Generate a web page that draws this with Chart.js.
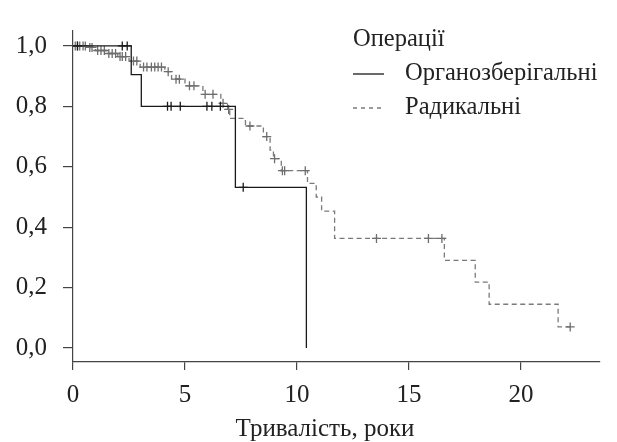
<!DOCTYPE html>
<html>
<head>
<meta charset="utf-8">
<script src="https://cdn.jsdelivr.net/npm/chart.js@4"></script>
<style>
  body { margin: 0; background: #fff; }
</style>
</head>
<body>
<canvas id="kmChart" width="617" height="442"></canvas>
<script>
// Kaplan-Meier curves, values
const xTicks = [0, 5, 10, 15, 20];
const yTicks = [0, 0.2, 0.4, 0.6, 0.8, 1.0];
const legendTitle = "Операції";
const xTitle = "Тривалість, роки";

// Органозберігальні (solid)
const orgTime = [0, 2.6, 3.05, 7.25, 10.42];
const orgSurv = [1.0, 0.905, 0.80, 0.532, 0.0];
const orgCensTime = [0.2, 2.2, 2.42, 4.22, 4.38, 4.79, 5.98, 6.2, 6.58, 7.6];
const orgCensSurv = [1.0, 1.0, 1.0, 0.8, 0.8, 0.8, 0.8, 0.8, 0.8, 0.532];

// Радикальні (dashed)
const radTime = [0, 0.6, 1.0, 1.5, 2.0, 2.5, 3.0, 4.1, 4.4, 5.0, 5.8, 6.6, 6.9, 7.0, 7.7, 8.5, 8.8, 8.95, 9.3, 10.47, 10.86, 11.1, 11.68, 16.58, 17.96, 18.58, 21.66, 22.2];
const radSurv = [1.0, 0.995, 0.985, 0.975, 0.965, 0.95, 0.93, 0.915, 0.89, 0.868, 0.84, 0.81, 0.79, 0.76, 0.735, 0.70, 0.655, 0.627, 0.587, 0.545, 0.50, 0.453, 0.363, 0.29, 0.218, 0.145, 0.07, 0.07];
const radCensTime = [0.1, 0.2, 0.3, 0.45, 0.55, 0.75, 0.85, 1.1, 1.25, 1.4, 1.6, 1.75, 1.9, 2.1, 2.2, 2.35, 2.7, 2.85, 3.15, 3.3, 3.5, 3.65, 3.8, 3.95, 4.25, 4.6, 4.75, 5.2, 5.4, 5.9, 6.25, 6.7, 6.95, 7.9, 8.65, 9.0, 9.35, 9.45, 10.37, 13.55, 15.87, 16.47, 22.2];
const radCensSurv = [1.0, 1.0, 1.0, 1.0, 1.0, 0.995, 0.995, 0.985, 0.985, 0.985, 0.975, 0.975, 0.975, 0.965, 0.965, 0.965, 0.95, 0.95, 0.93, 0.93, 0.93, 0.93, 0.93, 0.93, 0.915, 0.89, 0.89, 0.868, 0.868, 0.84, 0.84, 0.81, 0.79, 0.735, 0.70, 0.627, 0.587, 0.587, 0.587, 0.363, 0.363, 0.363, 0.07];

const FONT = '"Liberation Serif", "DejaVu Serif", serif';
const AXIS = "#444";

function toPoints(xs, ys) {
  return xs.map((x, i) => ({ x: x, y: ys[i] }));
}

// Legend inside the plot (top right) and the x axis title
const textPlugin = {
  id: "kmText",
  afterDraw(chart) {
    const ctx = chart.ctx;
    ctx.save();
    ctx.fillStyle = "#222";
    ctx.font = "25px " + FONT;
    ctx.textAlign = "center";
    ctx.textBaseline = "alphabetic";
    ctx.fillText(xTitle, 325, 436);

    ctx.font = "24.5px " + FONT;
    ctx.textAlign = "left";
    ctx.textBaseline = "middle";
    ctx.fillText(legendTitle, 353, 40);
    chart.data.datasets
      .filter((d) => d.inLegend)
      .forEach((d, i) => {
        const y = 74 + i * 34;
        ctx.strokeStyle = d.borderColor;
        ctx.lineWidth = d.borderWidth;
        ctx.setLineDash(d.legendDash || []);
        ctx.beginPath();
        ctx.moveTo(353, y);
        ctx.lineTo(384, y);
        ctx.stroke();
        ctx.setLineDash([]);
        ctx.fillText(d.label, 405, y);
      });
    ctx.restore();
  },
};

const ctx = document.getElementById("kmChart");
const kmChart = new Chart(ctx, {
  type: "scatter",
  data: {
    datasets: [
      {
        label: "Органозберігальні",
        inLegend: true,
        data: toPoints(orgTime, orgSurv),
        showLine: true,
        stepped: "before",
        borderColor: "#1a1a1a",
        borderWidth: 1.3,
        pointRadius: 0,
        order: 0,
      },
      {
        label: "Радикальні",
        inLegend: true,
        data: toPoints(radTime, radSurv),
        showLine: true,
        stepped: "before",
        borderColor: "#7a7a7a",
        borderWidth: 1.3,
        borderDash: [5, 3.5],
        legendDash: [4, 4],
        pointRadius: 0,
        order: 3,
      },
      {
        label: "org censored",
        data: toPoints(orgCensTime, orgCensSurv),
        pointStyle: "cross",
        pointRadius: 4.5,
        borderColor: "#1a1a1a",
        borderWidth: 1.3,
        order: 1,
      },
      {
        label: "rad censored",
        data: toPoints(radCensTime, radCensSurv),
        pointStyle: "cross",
        pointRadius: 4.5,
        borderColor: "#6e6e6e",
        borderWidth: 1.3,
        order: 2,
      },
    ],
  },
  options: {
    responsive: false,
    animation: false,
    events: [],
    layout: { padding: { top: 30, right: 17, bottom: 0, left: 0 } },
    plugins: {
      legend: { display: false },
      tooltip: { enabled: false },
    },
    scales: {
      x: {
        type: "linear",
        min: 0,
        max: 23.53,
        afterBuildTicks: (scale) => {
          scale.ticks = xTicks.map((v) => ({ value: v }));
        },
        afterFit: (scale) => {
          scale.height = 80;
        },
        border: { color: AXIS, width: 1.2 },
        grid: { drawOnChartArea: false, tickLength: 8, color: AXIS, lineWidth: 1.2 },
        ticks: { color: "#222", padding: 10, maxRotation: 0, font: { family: FONT, size: 25 } },
      },
      y: {
        type: "linear",
        min: -0.0462,
        max: 1.0495,
        afterBuildTicks: (scale) => {
          scale.ticks = yTicks.map((v) => ({ value: v }));
        },
        afterFit: (scale) => {
          scale.width = 73;
        },
        border: { color: AXIS, width: 1.2 },
        grid: { drawOnChartArea: false, tickLength: 10, color: AXIS, lineWidth: 1.2 },
        ticks: {
          color: "#222",
          padding: 16,
          font: { family: FONT, size: 25 },
          callback: (v) => v.toFixed(1).replace(".", ","),
        },
      },
    },
  },
  plugins: [textPlugin],
});
</script>
</body>
</html>
